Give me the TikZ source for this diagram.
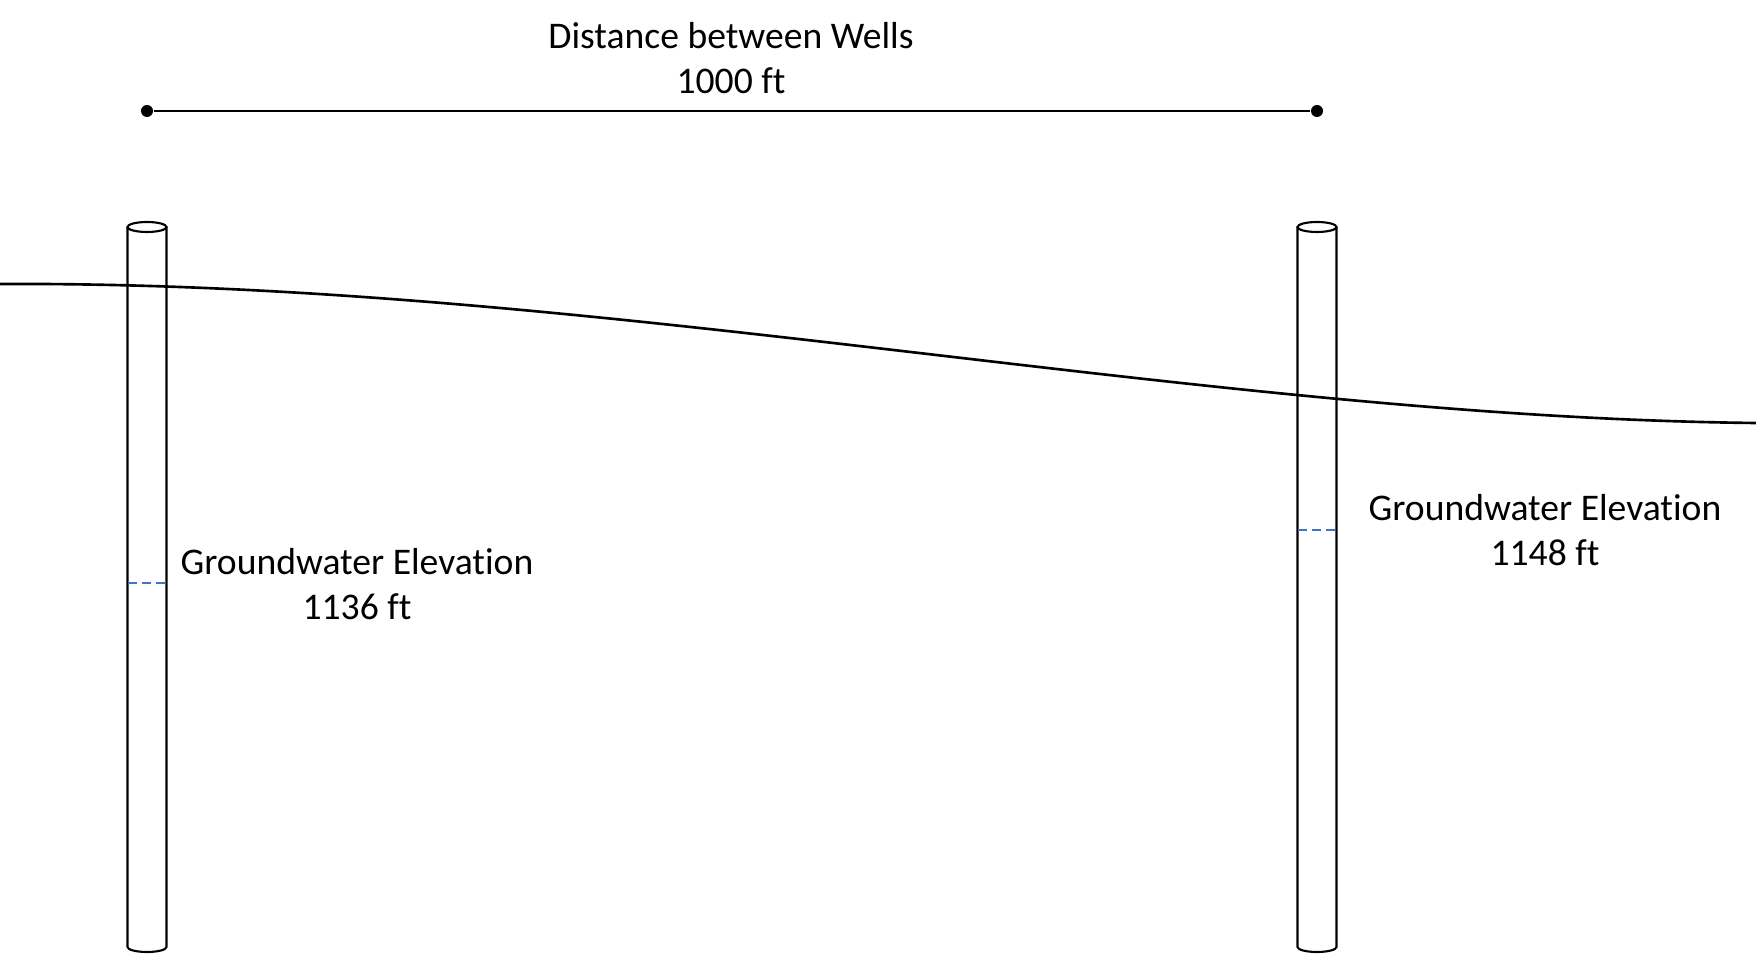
\documentclass[tikz,border=0pt]{standalone}
\usepackage{fontspec}
\setmainfont{Carlito}[Ligatures=NoCommon]
\usepackage{tikz}

\definecolor{waterblue}{RGB}{68,114,196}
\tikzset{
  wellwall/.style={line width=0.6pt},
  dot/.style={circle,fill=black,inner sep=0pt,minimum size=0.12cm},
  tag/.style={align=center,anchor=base,inner sep=0pt,font=\fontsize{10.7}{12.8}\selectfont},
  level/.style={waterblue,line width=0.55pt,dash pattern=on 2.8pt off 1.2pt}
}

\begin{document}
\begin{tikzpicture}[x=0.01cm,y=-0.01cm]
\useasboundingbox (0,0) rectangle (1756,955);
% ground surface
\draw[line width=0.75pt] (0,284) .. controls (600,281) and (1200,417) .. (1756,423);
% wells
\foreach \cx/\name in {147/wellA,1317/wellB}{
  \coordinate (\name) at (\cx,227);
  \draw[wellwall] (\cx-19.5,227) -- (\cx-19.5,947) arc[start angle=180,end angle=0,x radius=19.5,y radius=5] -- (\cx+19.5,227);
  \draw[wellwall] (\name) ellipse[x radius=19.5,y radius=5];
}
\draw[level] (127.5,583) -- (166.5,583);
\draw[level] (1297.5,530) -- (1336.5,530);
\node[dot] (dotA) at (147,111) {};
\node[dot] (dotB) at (1317,111) {};
\draw[line width=0.4pt] (dotA) -- (dotB);
	\node[tag] (span) at (731,94) {Distance between Wells\\1000 ft};   %base is the last line
	\node[tag] (headA) at (357,620) {Groundwater Elevation\\1136 ft};
	\node[tag] (headB) at (1545,566) {Groundwater Elevation\\1148 ft};
\end{tikzpicture}
\end{document}
